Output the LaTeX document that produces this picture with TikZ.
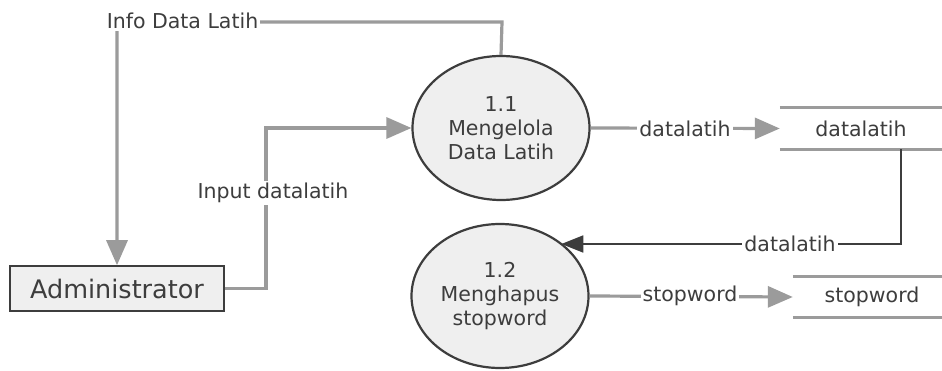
\documentclass[tikz,border=0pt]{standalone}
\usepackage{fontspec}
\setmainfont{DejaVu Sans}
\usetikzlibrary{shapes.geometric,arrows.meta}
\definecolor{flowgray}{HTML}{9B9B9B}
\definecolor{inkgray}{HTML}{3D3D3D}
\definecolor{procfill}{HTML}{EFEFEF}
\tikzset{
  flow/.style={draw=flowgray, line width=3.2pt},
  flowarrow/.style={flow, -{Triangle[length=25pt,width=21pt]}},
  datalink/.style={draw=inkgray, line width=1.8pt, -{Triangle[length=22pt,width=17pt]}},
  process/.style={ellipse, draw=inkgray, line width=2.2pt, fill=procfill,
    minimum width=177pt, minimum height=144pt, inner sep=0pt, align=center,
    text=inkgray, font=\fontsize{20.5}{24}\selectfont},
  entity/.style={rectangle, draw=inkgray, line width=1.6pt, fill=procfill,
    minimum width=214pt, minimum height=45pt, inner sep=0pt,
    text=inkgray, font=\fontsize{25.5}{30}\selectfont},
  store/.style={rectangle, inner sep=0pt, text=inkgray,
    font=\fontsize{20.5}{24}\selectfont},
  flowlabel/.style={rectangle, fill=white, inner sep=2pt, text=inkgray,
    font=\fontsize{20.5}{24}\selectfont}
}
\begin{document}
\begin{tikzpicture}[x=1pt,y=-1pt]
\useasboundingbox[fill=white] (0,0) rectangle (942,371);

% processes, external entity and data stores
\node[process] (p11) at (501,128) {1.1\\Mengelola\\Data Latih};
\node[process] (p12) at (500,296) {1.2\\Menghapus\\stopword};
\node[entity] (admin) at (117,288.5) {Administrator};
\node[store, minimum width=162pt, minimum height=41pt] (s1) at (861,128.5) {datalatih};
\node[store, minimum width=149pt, minimum height=40pt] (s2) at (867.5,297) {\hspace{9pt}stopword};
\draw[flow] (s1.north west) -- (s1.north east);
\draw[flow] (s1.south west) -- (s1.south east);
\draw[flow] (s2.north west) -- (s2.north east);
\draw[flow] (s2.south west) -- (s2.south east);

% bend points
\coordinate (infoR) at (502,22);
\coordinate (infoL) at (117,22);
\coordinate (inBend) at (266,288.5);
\coordinate (retBend) at (901,244);

% data flows
\draw[flowarrow] (p11.north) -- (infoR) -- (infoL) -- (admin.north);
\draw[flowarrow] (admin.east) -- (inBend) |- (p11.west);
\draw[flowarrow] (p11.east) -- (s1.west);
\draw[datalink] (s1.south -| retBend) -- (retBend) -- (p12.41 |- retBend);
\draw[flowarrow] (p12.east) -- (s2.west);

% flow labels
\node[flowlabel] (lInfo) at (182.5,21) {Info Data Latih};
\node[flowlabel] (lInput) at (273,193) {Input datalatih};
\node[flowlabel] (lOut1) at (685,128.5) {datalatih};
\node[flowlabel] (lRet) at (790,244) {datalatih};
\node[flowlabel] (lStop) at (690,296) {stopword};
\end{tikzpicture}
\end{document}
